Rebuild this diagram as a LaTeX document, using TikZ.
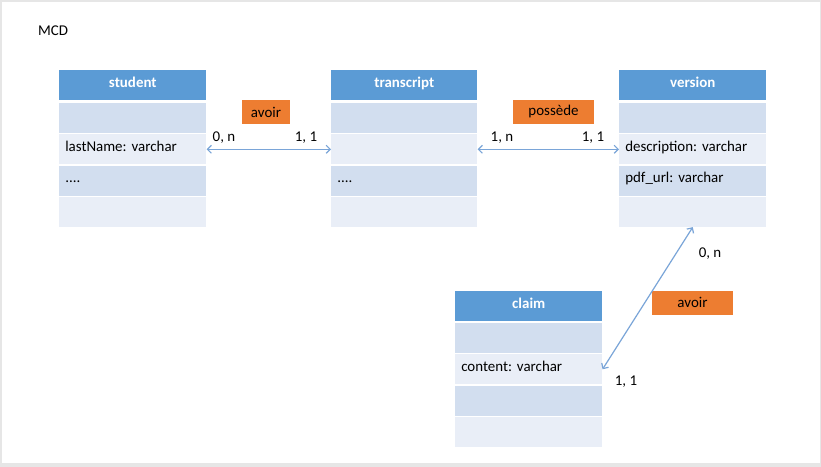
\documentclass[tikz,border=0pt]{standalone}
\usepackage{fontspec}
\setmainfont{Carlito}
\usetikzlibrary{arrows.meta}
\frenchspacing

\definecolor{headblue}{RGB}{91,155,213}
\definecolor{rowdark}{RGB}{210,222,239}
\definecolor{rowlight}{RGB}{233,238,247}
\definecolor{verborange}{RGB}{237,125,49}
\definecolor{linkblue}{RGB}{122,165,216}
\definecolor{framegray}{RGB}{230,230,230}

\begin{document}
\begin{tikzpicture}[x=0.75pt,y=-0.75pt,
    every node/.style={font=\fontsize{11.2}{13}\selectfont},
    header/.style={anchor=north west, fill=headblue, text=white,
        font=\fontsize{11.2}{13}\selectfont\bfseries,
        text height=7pt, text depth=4pt,
        minimum width=110.25pt, minimum height=22.5pt, inner sep=0pt},
    field/.style={anchor=north west, text width=101.25pt, align=left,
        text height=7pt, text depth=4pt,
        inner xsep=4.5pt, inner ysep=0pt, minimum height=22.5pt},
    dark/.style={field, fill=rowdark},
    light/.style={field, fill=rowlight},
    verb/.style={fill=verborange, inner sep=0pt, minimum height=18pt},
    card/.style={inner sep=1pt},
    link/.style={draw=linkblue, line width=0.9pt,
        {Straight Barb[length=3pt,width=6pt]}-{Straight Barb[length=3pt,width=6pt]}}
    ]
    \useasboundingbox (0,0) rectangle (821,467);
    \fill[framegray] (0,0) rectangle (821,467);
    \fill[white] (2,2) rectangle (820,462.5);

    \node (title) at (53,31) {MCD};

    % entities
    \node[header] (student) at (59,70) {student};
    \foreach \i/\sty/\txt in {1/dark/{},2/light/{lastName: varchar},3/dark/{....},4/light/{}}
        \node[\sty] (student-\i) at (59,71.4+\i*31.3) {\txt};

    \node[header, minimum width=109.5pt] (transcript) at (331,70) {transcript};
    \foreach \i/\sty/\txt in {1/dark/{},2/light/{},3/dark/{....},4/light/{}}
        \node[\sty, text width=100.5pt] (transcript-\i) at (331,71.4+\i*31.3) {\txt};

    \node[header] (version) at (619,70) {version};
    \foreach \i/\sty/\txt in {1/dark/{},2/light/{description: varchar},3/dark/{pdf\_url: varchar},4/light/{}}
        \node[\sty] (version-\i) at (619,71.4+\i*31.3) {\txt};

    \node[header] (claim) at (455,291) {claim};
    \foreach \i/\sty/\txt in {1/dark/{},2/light/{content: varchar},3/dark/{},4/light/{}}
        \node[\sty] (claim-\i) at (455,291.4+\i*31.3) {\txt};

    % associations
    \node[verb, minimum width=36pt] (avoir1) at (266,112) {avoir};
    \node[verb, minimum width=60.75pt] (possede) at (553.5,112) {possède};
    \node[verb, minimum width=60.75pt] (avoir2) at (692.5,302.5) {avoir};

    \draw[link] (student-2.east) -- (transcript-2.west);
    \draw[link] (transcript-2.east) -- (version-2.west);
    \draw[link] (version-4.south) -- (claim-2.east);

    % cardinalities
    \node[card] (c1) at (224,138) {0, n};
    \node[card] (c2) at (306,138) {1, 1};
    \node[card] (c3) at (502,138) {1, n};
    \node[card] (c4) at (593,138) {1, 1};
    \node[card] (c5) at (710,254) {0, n};
    \node[card] (c6) at (626,382) {1, 1};
\end{tikzpicture}
\end{document}
